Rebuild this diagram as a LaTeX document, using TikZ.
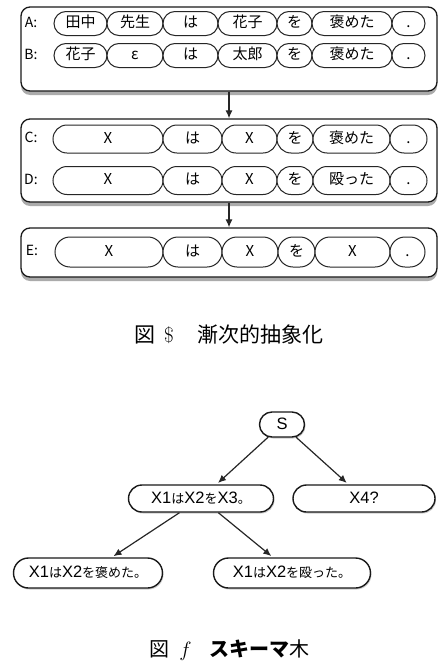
\documentclass[tikz,border=0pt]{standalone}
\usepackage{fontspec}
\setmainfont{Noto Sans CJK JP}
\newfontfamily\lmfont{Latin Modern Roman}
\newfontfamily\latfont{Liberation Sans}
\newcommand{\lx}[1]{{\latfont\fontsize{16.5}{17}\selectfont #1}}
\usetikzlibrary{shapes.misc,shadows,arrows.meta}
\begin{document}
\begin{tikzpicture}[x=1pt,y=-1pt,
  outer/.style={draw=black!90, line width=1.3pt, rounded corners=9pt, fill=white, inner sep=0pt,
    drop shadow={shadow xshift=0pt, shadow yshift=-4pt, fill=black!60, opacity=0.55}},
  pill/.style={rounded rectangle, draw=black!85, line width=1pt, fill=white, inner sep=0pt,
    text height=11pt, text depth=3pt,
    font=\fontsize{15}{16}\selectfont},
  lab/.style={font=\fontsize{14}{15}\selectfont, inner sep=0pt, text height=10pt, text depth=3pt},
  tnode/.style={rounded rectangle, draw=black!90, line width=1.4pt, fill=white, inner sep=0pt,
    minimum height=27pt, font=\fontsize{13}{14}\selectfont, text height=12pt, text depth=3pt,
    drop shadow={shadow xshift=1pt, shadow yshift=-1.5pt, fill=black!40, opacity=0.5}},
  arr/.style={draw=black!85, line width=1.2pt, -{Latex[length=8pt,width=7pt]}},
  captext/.style={inner sep=0pt}
]
\useasboundingbox (0,0) rectangle (446,672);

% outer boxes
\node[outer, minimum width=416pt, minimum height=84pt] (box1) at (229,49) {};
\node[outer, minimum width=416pt, minimum height=83pt] (box2) at (229,160.5) {};
\node[outer, minimum width=416pt, minimum height=49pt] (box3) at (229,252.5) {};

\draw[arr] (box1.south) -- (box2.north);
\draw[arr] (box2.south) -- (box3.north);

% row A
\node[lab] (la) at (31,23.5) {A:};
\tikzset{pa/.style={pill, minimum height=24pt}}
\node[pa, minimum width=53pt] (a1) at (80.5,23.5) {田中};
\node[pa, minimum width=56pt] (a2) at (135,23.5) {先生};
\node[pa, minimum width=55pt] (a3) at (190.5,23.5) {は};
\node[pa, minimum width=59pt] (a4) at (247.5,23.5) {花子};
\node[pa, minimum width=35pt] (a5) at (294.5,23.5) {を};
\node[pa, minimum width=80pt] (a6) at (352,23.5) {褒めた};
\node[pa, minimum width=33pt] (a7) at (408.5,23.5) {.};
% row B
\node[lab] (lb) at (31,55.5) {B:};
\node[pa, minimum width=53pt] (b1) at (80.5,55.5) {花子};
\node[pa, minimum width=56pt] (b2) at (135,55.5) {ε};
\node[pa, minimum width=55pt] (b3) at (190.5,55.5) {は};
\node[pa, minimum width=59pt] (b4) at (247.5,55.5) {太郎};
\node[pa, minimum width=35pt] (b5) at (294.5,55.5) {を};
\node[pa, minimum width=80pt] (b6) at (352,55.5) {褒めた};
\node[pa, minimum width=33pt] (b7) at (408.5,55.5) {.};

% row C
\tikzset{pc/.style={pill, minimum height=28pt}}
\node[lab] (lc) at (31,139) {C:};
\node[pc, minimum width=110pt] (c1) at (108,139) {X};
\node[pc, minimum width=59pt] (c2) at (192.5,139) {は};
\node[pc, minimum width=55pt] (c3) at (249.5,139) {X};
\node[pc, minimum width=36pt] (c4) at (295,139) {を};
\node[pc, minimum width=77pt] (c5) at (351.5,139) {褒めた};
\node[pc, minimum width=37pt] (c6) at (408.5,139) {.};
% row D
\node[lab] (ld) at (31,180.5) {D:};
\node[pc, minimum width=110pt] (d1) at (108,180.5) {X};
\node[pc, minimum width=59pt] (d2) at (192.5,180.5) {は};
\node[pc, minimum width=55pt] (d3) at (249.5,180.5) {X};
\node[pc, minimum width=36pt] (d4) at (295,180.5) {を};
\node[pc, minimum width=77pt] (d5) at (351.5,180.5) {殴った};
\node[pc, minimum width=37pt] (d6) at (408.5,180.5) {.};

% row E
\tikzset{pe/.style={pill, minimum height=30pt}}
\node[lab] (le) at (32,252) {E:};
\node[pe, minimum width=108pt] (e1) at (109,252) {X};
\node[pe, minimum width=59pt] (e2) at (192.5,252) {は};
\node[pe, minimum width=56pt] (e3) at (250,252) {X};
\node[pe, minimum width=37pt] (e4) at (296.5,252) {を};
\node[pe, minimum width=75pt] (e5) at (352.5,252) {X};
\node[pe, minimum width=35pt] (e6) at (407.5,252) {.};

% caption 1
\node[captext, font=\fontsize{21}{22}\selectfont] (cap1) at (229,335)
  {図\hspace{9pt}{\lmfont\$}\hspace{24pt}漸次的抽象化};

% tree
\node[tnode, minimum width=45pt, minimum height=25pt] (s) at (282,424.5) {\lx{S}};
\node[tnode, minimum width=145pt] (x123) at (201,498.5) {\lx{X1}は\lx{X2}を\lx{X3}。};
\node[tnode, minimum width=142pt] (x4) at (364,498.5) {\lx{X4?}};
\node[tnode, minimum width=149pt, minimum height=30pt] (x1) at (88,573) {\lx{X1}は\lx{X2}を褒めた。};
\node[tnode, minimum width=157pt, minimum height=30pt] (x2) at (292,573) {\lx{X1}は\lx{X2}を殴った。};

\draw[arr, shorten >=2pt] (s) -- (x123);
\draw[arr, shorten >=2pt] (s) -- (x4);
\draw[arr, shorten >=2pt] (x123) -- (x1);
\draw[arr, shorten >=2pt] (x123) -- (x2);

% caption 2
\node[captext, font=\fontsize{20}{21}\selectfont] (cap2) at (229.5,650)
  {図\hspace{10pt}$f$\hspace{18pt}{\bfseries スキーマ}木};
\end{tikzpicture}
\end{document}
